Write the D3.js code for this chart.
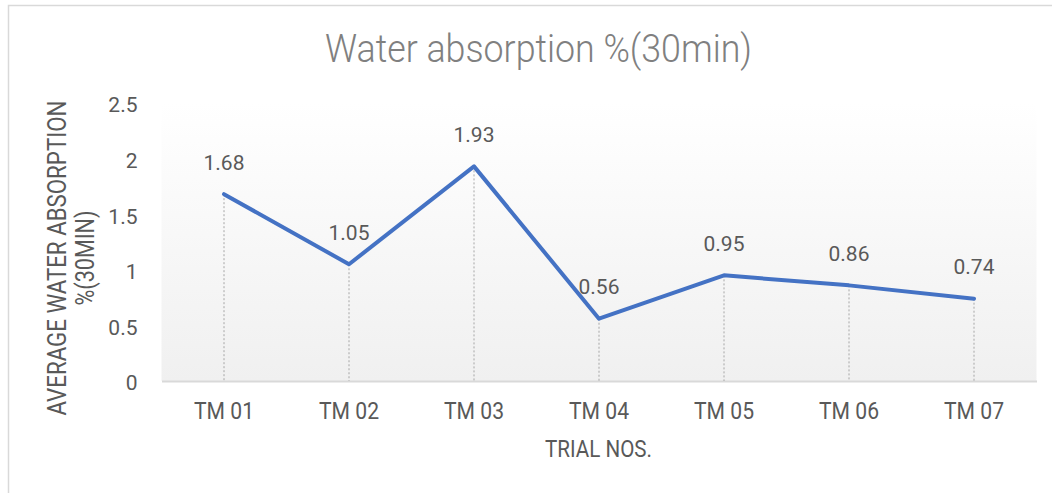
<!DOCTYPE html>
<html><head><meta charset="utf-8">
<script src="https://cdn.jsdelivr.net/npm/d3@7"></script>
<style>body{margin:0;background:#fff;}svg{display:block;}</style>
</head><body>
<svg id="c" width="1052" height="493"></svg>
<script>
const categories = ["TM 01","TM 02","TM 03","TM 04","TM 05","TM 06","TM 07"];
const values = [1.68, 1.05, 1.93, 0.56, 0.95, 0.86, 0.74];
const yTicks = [0, 0.5, 1, 1.5, 2, 2.5];
const title = "Water absorption %(30min)";
const yTitle = ["AVERAGE WATER ABSORPTION", "%(30MIN)"];
const xTitle = "TRIAL NOS.";

const svg = d3.select("#c");
const font = "Roboto, 'Noto Sans', sans-serif";
const txt = "#595959";
const L = 161.5, R = 1036.5, T = 103, B = 381;

// condense a text element horizontally to a fraction of its natural width
function condense(sel, f) {
  sel.each(function(){
    const w = this.getComputedTextLength();
    d3.select(this).attr("textLength", w*f).attr("lengthAdjust","spacingAndGlyphs");
  });
}

svg.append("rect").attr("x",8.5).attr("y",5.5).attr("width",1100).attr("height",600)
  .attr("fill","#fff").attr("stroke","#d9d9d9").attr("stroke-width",1.5);

const defs = svg.append("defs");
const g = defs.append("linearGradient").attr("id","bg").attr("x1",0).attr("y1",0).attr("x2",0).attr("y2",1);
g.append("stop").attr("offset","0").attr("stop-color","#ffffff");
g.append("stop").attr("offset","1").attr("stop-color","#f0f0f0");

const x = d3.scaleBand().domain(categories).range([L,R]);
const y = d3.scaleLinear().domain([0,2.5]).range([B,T]);

svg.append("rect").attr("x",L).attr("y",y(2.5)).attr("width",R-L).attr("height",B-y(2.5)).attr("fill","url(#bg)");

// title
svg.append("text").attr("x",538.5).attr("y",62).attr("text-anchor","middle")
  .attr("font-family",font).attr("font-size",39).attr("fill","#808080")
  .attr("font-weight",300).attr("textLength",427).attr("lengthAdjust","spacingAndGlyphs").text(title);

// y axis
const ya = svg.append("g").attr("transform",`translate(${L},0)`)
  .call(d3.axisLeft(y).tickValues(yTicks).tickSize(0).tickPadding(24).tickFormat(d=>String(d)));
ya.select(".domain").remove();
ya.selectAll("text").attr("font-family",font).attr("font-size",21).attr("fill",txt).attr("dy","0.42em");

// x axis
const xa = svg.append("g").attr("transform",`translate(0,${B})`)
  .call(d3.axisBottom(x).tickSize(0).tickPadding(21));
xa.select(".domain").attr("stroke","#d9d9d9").attr("stroke-width",2);
xa.selectAll("text").attr("font-family",font).attr("font-size",24).attr("fill",txt).attr("dy","0.71em");
condense(xa.selectAll("text"), 0.88);

// drop lines
const cx = d => x(d) + x.bandwidth()/2;
svg.append("g").selectAll("line").data(categories).join("line")
  .attr("x1",d=>cx(d)).attr("x2",d=>cx(d))
  .attr("y1",(d,i)=>y(values[i])).attr("y2",B)
  .attr("stroke","#a6a6a6").attr("stroke-width",1).attr("stroke-dasharray","2,2");

// line
const line = d3.line().x((d,i)=>cx(categories[i])).y(d=>y(d));
svg.append("path").datum(values).attr("d",line).attr("fill","none")
  .attr("stroke","#4472C4").attr("stroke-width",4).attr("stroke-linejoin","round").attr("stroke-linecap","round");

// data labels
svg.append("g").selectAll("text").data(values).join("text")
  .attr("x",(d,i)=>cx(categories[i])).attr("y",d=>y(d)-24.5)
  .attr("text-anchor","middle").attr("font-family",font).attr("font-size",21)
  .attr("fill",txt).text(d=>d.toFixed(2));

// axis titles
const yt = svg.append("text").attr("transform","translate(66,258) rotate(-90)")
  .attr("text-anchor","middle").attr("font-family",font).attr("font-size",25).attr("fill",txt);
yt.append("tspan").attr("x",0).attr("y",0).attr("textLength",315).attr("lengthAdjust","spacingAndGlyphs").text(yTitle[0]);
yt.append("tspan").attr("x",0).attr("y",28).attr("textLength",95).attr("lengthAdjust","spacingAndGlyphs").text(yTitle[1]);

const xt = svg.append("text").attr("x",598.5).attr("y",457).attr("text-anchor","middle")
  .attr("font-family",font).attr("font-size",24).attr("fill",txt).text(xTitle);
xt.attr("textLength",107).attr("lengthAdjust","spacingAndGlyphs");
</script>
</body></html>
